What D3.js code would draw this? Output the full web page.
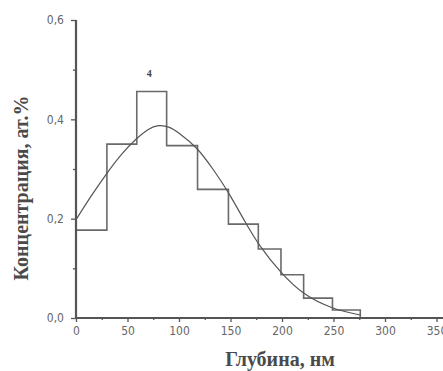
<!DOCTYPE html>
<html>
<head>
<meta charset="utf-8">
<script src="https://cdn.jsdelivr.net/npm/d3@7"></script>
<style>
  body { margin: 0; background: #fff; }
  svg { display: block; }
</style>
</head>
<body>
<div id="chart"></div>
<script>
// histogram bin edges (nm) and bin heights (at.%)
var binEdges = [0, 30, 59, 88, 118, 148, 177, 199, 221, 249, 276];
var binValues = [0.177, 0.35, 0.456, 0.347, 0.259, 0.189, 0.139, 0.087, 0.040, 0.016];

// fitted curve
var curveDepth = [0, 15, 30, 45, 59, 70, 80, 90, 100, 118, 133, 148, 165, 177, 199, 221, 249, 276];
var curveConc = [0.198, 0.247, 0.292, 0.333, 0.362, 0.381, 0.389, 0.386, 0.373, 0.343, 0.300, 0.254, 0.190, 0.148, 0.090, 0.046, 0.018, 0.006];

var xTicks = [0, 50, 100, 150, 200, 250, 300, 350];
var xMinor = [25, 75, 125, 175, 225, 275, 325];
var yTicks = [0, 0.2, 0.4, 0.6];
var yMinor = [0.1, 0.3, 0.5];

var width = 443, height = 371;
var svg = d3.select("#chart").append("svg")
    .attr("width", width)
    .attr("height", height);

var x = d3.scaleLinear().domain([0, 350]).range([76, 436.5]);
var y = d3.scaleLinear().domain([0, 0.6]).range([318, 20]);
var fmt = function(d){ return d3.format(".1f")(d).replace(".", ","); };

var tickFont = "'DejaVu Sans Condensed', 'DejaVu Sans', sans-serif";

// histogram as a step outline
var steps = [[0, 0]];
binValues.forEach(function(v, i){ steps.push([binEdges[i], v]); });
steps.push([binEdges[binEdges.length - 1], binValues[binValues.length - 1]]);
steps.push([binEdges[binEdges.length - 1], 0]);

var stepLine = d3.line()
    .x(function(d){ return x(d[0]); })
    .y(function(d){ return y(d[1]); })
    .curve(d3.curveStepAfter);

svg.append("path")
    .datum(steps)
    .attr("d", stepLine)
    .attr("fill", "none")
    .attr("stroke", "#6a6a6a")
    .attr("stroke-width", 1.6);

var fitLine = d3.line()
    .x(function(d, i){ return x(curveDepth[i]); })
    .y(function(d){ return y(d); })
    .curve(d3.curveBasis);

svg.append("path")
    .datum(curveConc)
    .attr("d", fitLine)
    .attr("fill", "none")
    .attr("stroke", "#555")
    .attr("stroke-width", 1.2);

// axes
var xAxis = svg.append("g")
    .attr("transform", "translate(0," + y(0) + ")")
    .call(d3.axisBottom(x).tickValues(xTicks).tickSize(4).tickFormat(d3.format("d")));
svg.append("g")
    .attr("transform", "translate(0," + y(0) + ")")
    .call(d3.axisBottom(x).tickValues(xMinor).tickSize(2).tickFormat(""));
var yAxis = svg.append("g")
    .attr("transform", "translate(" + x(0) + ",0)")
    .call(d3.axisLeft(y).tickValues(yTicks).tickSize(5).tickFormat(fmt));
svg.append("g")
    .attr("transform", "translate(" + x(0) + ",0)")
    .call(d3.axisLeft(y).tickValues(yMinor).tickSize(3).tickFormat(""));

svg.selectAll(".domain").remove();
svg.selectAll(".tick line").attr("stroke", "#555").attr("stroke-width", 1.3);
svg.selectAll(".tick text")
    .attr("fill", "#666")
    .style("font-family", tickFont)
    .style("font-size", "12px");
xAxis.selectAll(".tick text").attr("dy", "0.95em").attr("y", 6);
yAxis.selectAll(".tick text").attr("x", -12);

svg.append("line")
    .attr("x1", x(0)).attr("x2", width)
    .attr("y1", y(0)).attr("y2", y(0))
    .attr("stroke", "#555").attr("stroke-width", 2.2);
svg.append("line")
    .attr("x1", x(0)).attr("x2", x(0))
    .attr("y1", y(0)).attr("y2", y(0.6))
    .attr("stroke", "#555").attr("stroke-width", 2.2);

// labels
svg.append("text")
    .attr("x", x(71)).attr("y", y(0.485))
    .attr("text-anchor", "middle")
    .attr("fill", "#444")
    .style("font-family", "'Liberation Serif', serif")
    .style("font-size", "10px")
    .style("font-weight", "bold")
    .text("4");

svg.append("text")
    .attr("x", 280).attr("y", 366)
    .attr("text-anchor", "middle")
    .attr("fill", "#4a4a4a")
    .style("font-family", "'Liberation Serif', serif")
    .style("font-size", "20px")
    .style("font-weight", "bold")
    .text("Глубина, нм");

svg.append("text")
    .attr("transform", "translate(28,188) rotate(-90)")
    .attr("text-anchor", "middle")
    .attr("fill", "#4a4a4a")
    .style("font-family", "'Liberation Serif', serif")
    .style("font-size", "20px")
    .style("font-weight", "bold")
    .text("Концентрация, ат.%");
</script>
</body>
</html>
